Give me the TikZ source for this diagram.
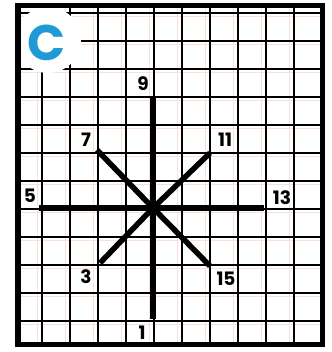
\documentclass[tikz,border=0pt]{standalone}
\usepackage{fontspec}
\setmainfont{Poppins}
\tikzset{
  gridline/.style={line width=1.8pt, black},
  pinkline/.style={line width=0.7pt, color=pinkish},
  frame/.style={line width=5.5pt, black},
  ray/.style={line width=5.5pt, black, line cap=butt},
  lbl/.style={font=\fontsize{18.5}{18.5}\selectfont\bfseries, inner sep=0pt},
}
\definecolor{pinkish}{RGB}{249,224,216}
\definecolor{cblue}{RGB}{30,155,215}
\begin{document}
\begin{tikzpicture}[x=1pt,y=-1pt]
\useasboundingbox (0,0) rectangle (331,352);
\fill[white] (0,0) rectangle (331,352);
% faint offset print lines
\foreach \k in {0,...,9} \draw[pinkline] ({37+28*\k},6) -- ({37+28*\k},344);
\foreach \k in {0,...,11} \draw[pinkline] (17,{16+28*\k}) -- (322,{16+28*\k});
% grid
\foreach \k in {0,...,9} \draw[gridline] ({42+28*\k},6) -- ({42+28*\k},344);
\foreach \k in {0,...,11} \draw[gridline] (17,{13+28*\k}) -- (322,{13+28*\k});
% white patch with the letter
\fill[white] (48,40) circle (33);
\node[text=cblue, font=\fontsize{50}{50}\selectfont\bfseries, inner sep=0pt] (C) at (47,43) {C};
% frame
\draw[frame] (17.75,5.75) rectangle (322.25,344.25);
% rays
\coordinate (c) at (153,208);
\coordinate (e9) at (153,97);
\coordinate (e1) at (153,319);
\coordinate (e5) at (39,208);
\coordinate (e13) at (264,208);
\coordinate (e7) at (97,150);
\coordinate (e11) at (210,153);
\coordinate (e3) at (100,263);
\coordinate (e15) at (210,266);
\foreach \e in {e9,e1,e5,e13,e7,e11,e3,e15} \draw[ray] (c) -- (\e);
% labels
\node[lbl] (l9) at (143,84) {9};
\node[lbl] (l7) at (86,140) {7};
\node[lbl] (l11) at (225,140) {11};
\node[lbl] (l5) at (30,196) {5};
\node[lbl] (l13) at (282,198) {13};
\node[lbl] (l3) at (86,277) {3};
\node[lbl] (l15) at (226,279) {15};
\node[lbl] (l1) at (142,333) {1};
\end{tikzpicture}
\end{document}
